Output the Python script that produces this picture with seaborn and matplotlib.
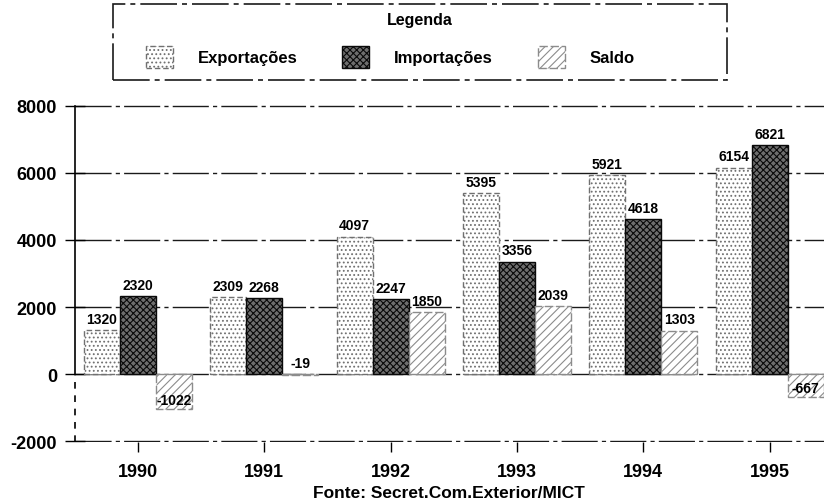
import pandas as pd
import numpy as np
import matplotlib
matplotlib.use('Agg')
import matplotlib.pyplot as plt
from matplotlib.patches import Rectangle
import seaborn as sns

# valores (milhoes)
anos = ['1990', '1991', '1992', '1993', '1994', '1995']
series = ['Exportações', 'Importações', 'Saldo']
exportacoes = [1320, 2309, 4097, 5395, 5921, 6154]
importacoes = [2320, 2268, 2247, 3356, 4618, 6821]
saldo = [-1022, -19, 1850, 2039, 1303, -667]
y_ticks = [-2000, 0, 2000, 4000, 6000, 8000]
fonte = 'Fonte: Secret.Com.Exterior/MICT'

valores = [exportacoes, importacoes, saldo]

df = pd.DataFrame({
    'ano': anos * 3,
    'serie': [s for s in series for _ in anos],
    'valor': exportacoes + importacoes + saldo,
})

sns.set_theme(style='white')
plt.rcParams['font.family'] = ['Liberation Sans', 'DejaVu Sans']
plt.rcParams['text.color'] = 'black'
plt.rcParams['xtick.color'] = 'black'
plt.rcParams['ytick.color'] = 'black'
plt.rcParams['hatch.linewidth'] = 0.8

# estilos de cada serie (imitando o padrao da impressao)
estilos = [
    dict(facecolor='white', edgecolor='#707070', hatch='....', linestyle=(0, (4, 2)), linewidth=1.0),
    dict(facecolor='#6e6e6e', edgecolor='#0a0a0a', hatch='xxxxx', linestyle='-', linewidth=1.0),
    dict(facecolor='white', edgecolor='#8c8c8c', hatch='////', linestyle=(0, (6, 2)), linewidth=1.0),
]

fig = plt.figure(figsize=(8.24, 5.02), dpi=100)
ax = fig.add_axes([75 / 824, 1 - 443 / 502, 1 - 75 / 824, (443 - 106) / 502])

sns.barplot(data=df, x='ano', y='valor', hue='serie', order=anos, hue_order=series,
            width=0.855, gap=0, errorbar=None, saturation=1, legend=False, ax=ax)

for cont, est in zip(ax.containers, estilos):
    for bar in cont:
        bar.set(**est)
        bar.set_zorder(3)

# rotulos de valor
for cont, vals in zip(ax.containers, valores):
    for bar, v in zip(cont, vals):
        x = bar.get_x() + bar.get_width() / 2
        if v < -100:
            ax.annotate(str(v), (x, v), xytext=(0, 1.5), textcoords='offset points',
                        ha='center', va='bottom', fontsize=10, fontweight='bold',
                        color='black', zorder=5)
        else:
            ax.annotate(str(v), (x, max(v, 0)), xytext=(0, 3), textcoords='offset points',
                        ha='center', va='bottom', fontsize=10, fontweight='bold',
                        color='black', zorder=5)

ax.set_xlim(-0.498, 5.43)
ax.set_ylim(-2015, 8015)
ax.set_yticks(y_ticks)
ax.set_yticklabels([str(t) for t in y_ticks], fontsize=13, fontweight='bold')
ax.set_xticks(range(len(anos)))
ax.set_xticklabels(anos, fontsize=13, fontweight='bold')
ax.set_xlabel('')
ax.set_ylabel('')

ax.yaxis.grid(True, color='#1a1a1a', linewidth=1.0, linestyle=(0, (26, 3, 3, 3)))
ax.xaxis.grid(False)
ax.set_axisbelow(True)

for s in ['top', 'right', 'bottom']:
    ax.spines[s].set_visible(False)
ax.spines['left'].set_bounds(0, 8000)
ax.spines['left'].set_color('black')
ax.spines['left'].set_linewidth(1.2)
ax.plot([0, 0], [0, 0.2], transform=ax.transAxes, color='black', lw=1.2,
        ls=(0, (4, 4)), clip_on=False, zorder=4)

ax.tick_params(axis='y', direction='inout', length=14, width=1, pad=6, left=True)
ax.tick_params(axis='x', direction='out', length=7, width=1, pad=8, bottom=True)

# legenda
handles = [c.patches[0] for c in ax.containers]
fig.legend(handles, series, loc='center left', bbox_to_anchor=(146 / 824, 1 - 58 / 502),
           ncol=3, frameon=False, handlelength=1.6, handleheight=1.6, handletextpad=1.5,
           columnspacing=2.7, borderpad=0, borderaxespad=0,
           prop=dict(weight='bold', size=12))
fig.text(420 / 824, 1 - 21 / 502, 'Legenda', ha='center', va='center',
         fontsize=11.5, fontweight='bold')
fig.add_artist(Rectangle((113 / 824, 1 - 81 / 502), (727 - 113) / 824, 76 / 502,
                         transform=fig.transFigure, fill=False, edgecolor='#1a1a1a',
                         linewidth=1.2, linestyle=(0, (22, 3, 3, 3))))

fig.text(449 / 824, 1 - 494 / 502, fonte, ha='center', va='center',
         fontsize=12.5, fontweight='bold')

fig.savefig('out.png', dpi=100)
